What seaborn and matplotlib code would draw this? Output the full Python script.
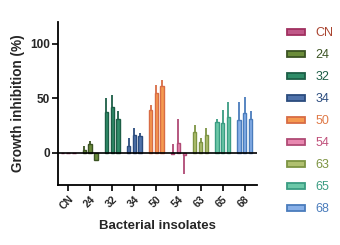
import matplotlib
matplotlib.use("Agg")
import matplotlib.pyplot as plt
from matplotlib.patches import Patch
import seaborn as sns
import pandas as pd

categories = ["CN", "24", "32", "34", "50", "54", "63", "65", "68"]
rep1 = [0, 2, 37, 6, 39, -1, 19, 28, 30]
rep2 = [0, 8, 42, 16, 55, 9, 10, 27, 36]
rep3 = [0, -7, 31, 15, 61, -2, 16, 33, 31]
# signed one-sided error (positive = upward, negative = downward)
err1 = [0, 4, 13, 7, 5, 9, 6, 3, 16]
err2 = [0, 3, 11, 7, 7, 22, 3, 12, 15]
err3 = [0, 0, 7, 3, 6, -18, 7, 13, 7]
yticks = [0, 50, 100]

edge_colors = ["#a03060", "#3b5323", "#1c5e46", "#2b4c7e", "#d86c45",
               "#b04a75", "#7d9443", "#3a9c82", "#4a7cbc"]
fill_colors = ["#c05888", "#6b8c3a", "#2f8c68", "#4f72aa", "#f59a50",
               "#e888b0", "#b0c070", "#6cc8a8", "#88b0e8"]
text_colors = ["#a9432f", "#3b5323", "#1c5e46", "#2b4c7e", "#e07a48",
               "#c0507a", "#7d9443", "#3a9c82", "#4a7cbc"]

reps = ["r1", "r2", "r3"]
rows = []
for r, vals in zip(reps, [rep1, rep2, rep3]):
    for c, v in zip(categories, vals):
        rows.append({"cat": c, "rep": r, "value": v})
df = pd.DataFrame(rows)

sns.set_style("ticks")
plt.rcParams["font.family"] = ["Liberation Sans", "DejaVu Sans"]

fig = plt.figure(figsize=(3.4, 2.45), dpi=100)
ax = fig.add_axes([0.1715, 0.2433, 0.585, 0.668])

sns.barplot(data=df, x="cat", y="value", hue="rep", order=categories,
            hue_order=reps, width=0.8, gap=0.38, errorbar=None,
            legend=False, ax=ax)

errs = [err1, err2, err3]
vals_all = [rep1, rep2, rep3]
bar_containers = list(ax.containers)
for k, cont in enumerate(bar_containers):
    for i, p in enumerate(cont.patches):
        p.set_facecolor(fill_colors[i])
        p.set_edgecolor(edge_colors[i])
        p.set_linewidth(1.0)
        e = errs[k][i]
        if e != 0:
            xc = p.get_x() + p.get_width() / 2
            yv = vals_all[k][i]
            yerr = [[0], [e]] if e > 0 else [[-e], [0]]
            ax.errorbar([xc], [yv], yerr=yerr, fmt="none",
                        ecolor=edge_colors[i], elinewidth=1.3, capsize=0,
                        zorder=1)

ax.axhline(0, color="black", lw=1.2, zorder=3)
ax.set_ylim(-30, 120)
ax.set_xlim(-0.45, 8.57)
ax.set_yticks(yticks)
ax.set_yticklabels([str(t) for t in yticks], fontsize=8.5, fontweight="bold")
ax.set_xticks(range(len(categories)))
ax.set_xticklabels(categories, fontsize=7.5, fontweight="bold",
                   rotation=45, ha="right", rotation_mode="anchor")
ax.tick_params(axis="both", length=4, width=1.2, color="black", pad=2)
for s in ["left", "bottom"]:
    ax.spines[s].set_linewidth(1.3)
    ax.spines[s].set_color("black")
sns.despine(ax=ax)

ax.set_ylabel("Growth inhibition (%)", fontsize=9.8, fontweight="bold", labelpad=4)
ax.set_xlabel("Bacterial insolates", fontsize=9.5, fontweight="bold", labelpad=6)

handles = [Patch(facecolor=f, edgecolor=e, lw=1.3)
           for f, e in zip(fill_colors, edge_colors)]
fig.legend(handles, categories, loc="upper left",
           bbox_to_anchor=(0.845, 0.888), frameon=False, fontsize=9,
           labelcolor=text_colors, handlelength=1.44, handleheight=0.42,
           handletextpad=0.8, labelspacing=0.8, borderpad=0,
           borderaxespad=0)

fig.savefig("out.png", dpi=100)
